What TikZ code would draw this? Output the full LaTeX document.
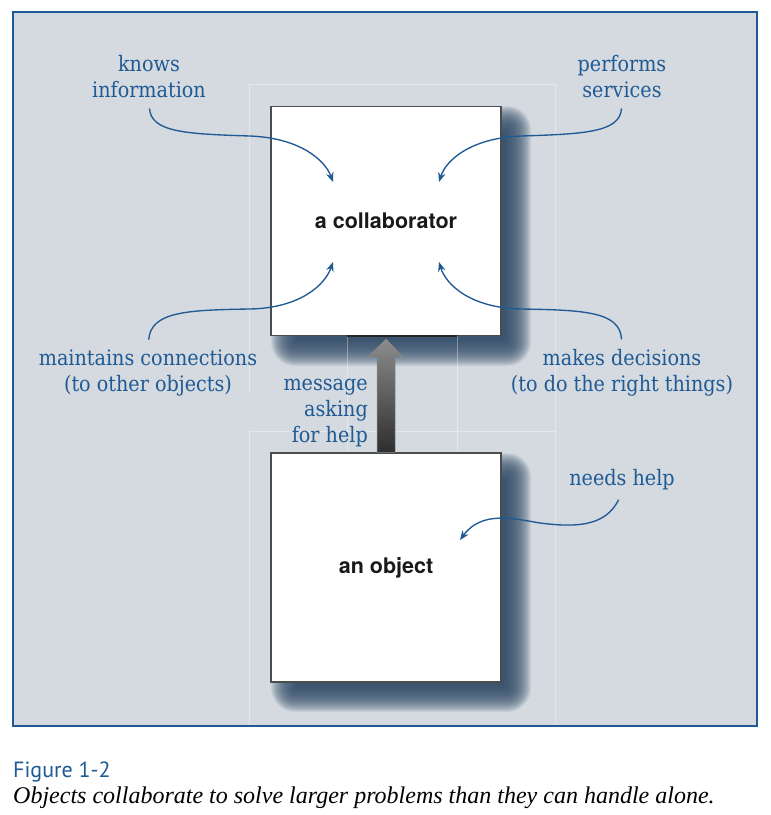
\documentclass[tikz,border=0pt]{standalone}
\usepackage{fontspec}
\setmainfont{Liberation Serif}
\newfontfamily\lblfont[FakeStretch=0.9]{DejaVu Serif}
\newfontfamily\boxfont{TeX Gyre Heros}
\newfontfamily\capsans{PT Sans}
\usetikzlibrary{arrows.meta,calc}
\definecolor{bgc}{HTML}{D4DADF}
\definecolor{framec}{HTML}{1F5A96}
\definecolor{lblc}{HTML}{1F5A94}
\definecolor{shc}{HTML}{34506C}
\newcommand\myshadow[4]{%
  \foreach \e [evaluate=\e as \r using {max(\e+8,1)}] in {16,15,...,-12}{%
    \fill[shc,opacity=0.085,rounded corners=\r pt] ({#1+16-\e},{#2+16-\e}) rectangle ({#3+14+\e},{#4+14+\e});
  }%
}
\tikzset{
  objbox/.style={draw=black!70, line width=1.2pt, fill=white, minimum width=230pt,
    minimum height=229pt, inner sep=0pt, text=black!90,
    font=\boxfont\bfseries\fontsize{21.5}{24}\selectfont},
  lbl/.style={text=lblc, align=center, inner sep=2pt, font=\lblfont\fontsize{21.3}{26}\selectfont},
  conn/.style={draw=lblc, line width=1.35pt, -{Stealth[length=9.5pt,width=7.5pt]}, shorten <=8pt},
  faint/.style={draw=white, opacity=0.35, line width=0.7pt},
  bigarrow/.style={top color=black!45, bottom color=black!82, draw=black!45, line width=0.5pt}
}
\begin{document}
\begin{tikzpicture}[x=1pt,y=-1pt]
\useasboundingbox (0,0) rectangle (771,815);
\fill[white] (0,0) rectangle (771,815);
\draw[framec, line width=2.5pt, fill=bgc] (13,12) rectangle (757,726);

% shadows
\myshadow{271}{106}{501}{336}
\myshadow{271}{453}{501}{682}

% faint tile lines
\draw[faint] (249,84) -- (555,84);
\draw[faint] (249,84) -- (249,392);
\draw[faint] (555,84) -- (555,725);
\draw[faint] (249,431) -- (555,431);
\draw[faint] (249,431) -- (249,725);
\draw[faint] (347,336) -- (347,453);
\draw[faint] (457,336) -- (457,453);

% boxes
\node[objbox] (collab) at (386,221) {a collaborator};
\node[objbox] (obj) at (386,567.5) {an object};
\draw[black!85, line width=2pt] ($(collab.south)+(-39,-0.6)$) -- ($(collab.south)+(71,-0.6)$);

% big arrow
\path[bigarrow] ($(obj.north)+(-9,0)$) -- ($(collab.south)+(-9,21)$) -- ($(collab.south)+(-18,21)$)
  -- ($(collab.south)+(0,3)$) -- ($(collab.south)+(17,21)$) -- ($(collab.south)+(9,21)$)
  -- ($(obj.north)+(9,0)$) -- cycle;

% labels
\node[lbl] (kn) at (149,77) {knows\\information};
\node[lbl] (pf) at (622,77) {performs\\services};
\node[lbl] (mc) at (148,373) {maintains connections\\(to other objects)};
\node[lbl] (md) at (622,373) {makes decisions\\(to do the right things)};
\node[lbl] (nh) at (622,480) {needs help};
\node[lbl, align=right, anchor=east] (msg) at (370,413) {message\\asking\\for help};

% tips
\coordinate (t1) at (333,182);
\coordinate (t2) at (439,182);
\coordinate (t3) at (333,262);
\coordinate (t4) at (439,262);
\coordinate (t5) at (460,540);

% connectors
\draw[conn] (kn.south) .. controls (151,132) and (185,134) .. (250,136) .. controls (300,138) and (325,160) .. (t1);
\draw[conn] (pf.south) .. controls (620,132) and (586,134) .. (521,136) .. controls (471,138) and (446,160) .. (t2);
\draw[conn] (mc.north) .. controls (151,312) and (185,310) .. (250,309) .. controls (300,308) and (325,285) .. (t3);
\draw[conn] (md.north) .. controls (620,312) and (586,310) .. (521,309) .. controls (471,308) and (446,285) .. (t4);
\draw[conn] (nh.south) .. controls (605,528) and (572,527) .. (540,523) .. controls (515,519) and (482,510) .. (t5);

% caption
\node[anchor=base west, inner sep=0pt, text=lblc, font=\capsans\fontsize{22}{26}\selectfont] (fig) at (13,777) {Figure 1-2};
\node[anchor=base west, inner sep=0pt, font=\itshape\fontsize{24}{28}\selectfont] (cap) at (13,803) {Objects collaborate to solve larger problems than they can handle alone.};
\end{tikzpicture}
\end{document}
